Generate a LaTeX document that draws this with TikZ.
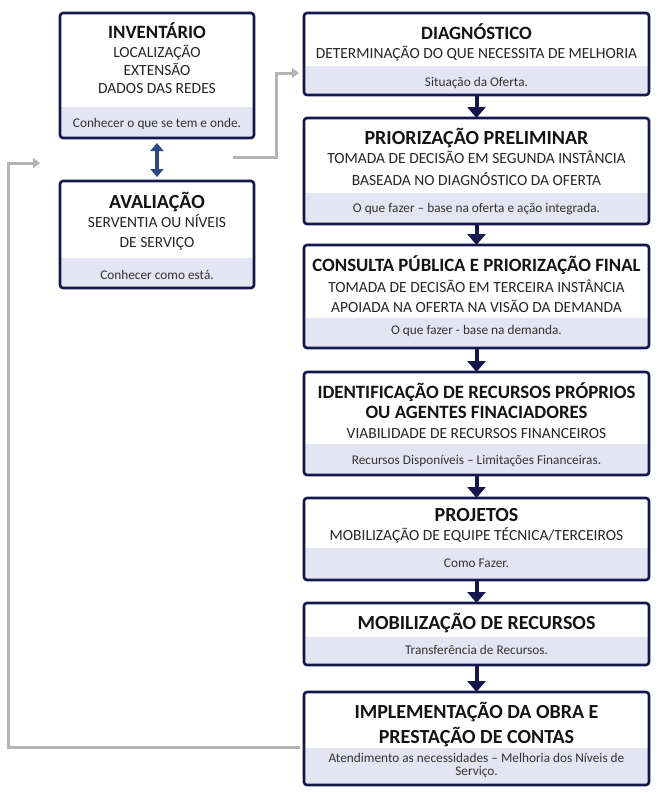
\documentclass[tikz,border=0pt]{standalone}
\usepackage{fontspec}
\setmainfont{Carlito}
\usetikzlibrary{arrows.meta}
\definecolor{navy}{HTML}{16164F}
\definecolor{bandc}{HTML}{E4E4F2}
\definecolor{grayc}{HTML}{B4B4B4}
\definecolor{dblc}{HTML}{2C4A88}
\tikzset{
  panel/.style={draw=navy, line width=2.6pt, rounded corners=3pt, inner sep=0pt, outer sep=0pt},
  ttl/.style={font=\fontsize{18.8}{22}\selectfont\bfseries, text=black!92, anchor=base, inner sep=0pt},
  ttlL/.style={ttl, font=\fontsize{20}{23}\selectfont\bfseries},
  sub/.style={font=\fontsize{15.5}{18}\selectfont, text=black!85, anchor=base, inner sep=0pt},
  bnd/.style={font=\fontsize{13.3}{15}\selectfont, text=black!80, anchor=base, inner sep=0pt},
  nav/.style={draw=navy, line width=4pt, -{Triangle[width=18pt,length=11pt]}},
  dbl/.style={draw=dblc, line width=3.5pt, {Triangle[width=13pt,length=8pt]}-{Triangle[width=13pt,length=8pt]}},
  gry/.style={draw=grayc, line width=3pt, -{Triangle[width=10pt,length=7pt]}},
}
% name, x1, y1, x2, y2, bandY
\newcommand\panelbox[6]{%
  \begin{scope}
    \clip[rounded corners=3pt] (#2,#3) rectangle (#4,#5);
    \fill[bandc] (#2,#6) rectangle (#4,#5);
  \end{scope}
  \node[panel, minimum width={(#4-#2)*1pt}, minimum height={(#5-#3)*1pt}] (#1) at ({(#2+#4)/2},{(#3+#5)/2}) {};
}
\begin{document}
\begin{tikzpicture}[x=1pt, y=-1pt]
\useasboundingbox (0,0) rectangle (664,793);
\fill[white] (0,0) rectangle (664,793);

% left column
\panelbox{inv}{60}{13}{254}{138}{107}
\panelbox{ava}{60}{181}{254}{288}{258}
% right column
\panelbox{diag}{304}{13}{649}{95}{66}
\panelbox{prior}{304}{118}{649}{224}{193}
\panelbox{cons}{304}{245}{649}{348}{318}
\panelbox{ident}{304}{372}{649}{475}{444}
\panelbox{proj}{304}{498}{649}{580}{548}
\panelbox{mob}{304}{603}{649}{665}{637}
\panelbox{impl}{304}{692}{649}{785}{748}

% texts: inventario
\node[ttl] (invt) at (157,38) {INVENTÁRIO};
\node[sub] (invs1) at (157,57) {LOCALIZAÇÃO};
\node[sub] (invs2) at (157,75) {EXTENSÃO};
\node[sub] (invs3) at (157,93) {DADOS DAS REDES};
\node[bnd] (invb) at (157,127) {Conhecer o que se tem e onde.};
% avaliacao
\node[ttlL] (avat) at (157,208) {AVALIAÇÃO};
\node[sub] (avas1) at (157,227) {SERVENTIA OU NÍVEIS};
\node[sub] (avas2) at (157,247) {DE SERVIÇO};
\node[bnd] (avab) at (157,279) {Conhecer como está.};
% diagnostico
\node[ttl] (diagt) at (476.5,39) {DIAGNÓSTICO};
\node[sub] (diags) at (476.5,58) {DETERMINAÇÃO DO QUE NECESSITA DE MELHORIA};
\node[bnd] (diagb) at (476.5,86) {Situação da Oferta.};
% priorizacao
\node[ttlL] (priort) at (476.5,144) {PRIORIZAÇÃO PRELIMINAR};
\node[sub] (priors1) at (476.5,163) {TOMADA DE DECISÃO EM SEGUNDA INSTÂNCIA};
\node[sub] (priors2) at (476.5,185) {BASEADA NO DIAGNÓSTICO DA OFERTA};
\node[bnd] (priorb) at (476.5,212) {O que fazer – base na oferta e ação integrada.};
% consulta
\node[ttl] (const) at (476.5,271) {CONSULTA PÚBLICA E PRIORIZAÇÃO FINAL};
\node[sub] (conss1) at (476.5,292) {TOMADA DE DECISÃO EM TERCEIRA INSTÂNCIA};
\node[sub] (conss2) at (476.5,312) {APOIADA NA OFERTA NA VISÃO DA DEMANDA};
\node[bnd] (consb) at (476.5,334) {O que fazer - base na demanda.};
% identificacao
\node[ttl] (identt1) at (476.5,398) {IDENTIFICAÇÃO DE RECURSOS PRÓPRIOS};
\node[ttl] (identt2) at (476.5,418) {OU AGENTES FINACIADORES};
\node[sub] (idents) at (476.5,438) {VIABILIDADE DE RECURSOS FINANCEIROS};
\node[bnd] (identb) at (476.5,464) {Recursos Disponíveis – Limitações Financeiras.};
% projetos
\node[ttlL] (projt) at (476.5,521) {PROJETOS};
\node[sub] (projs) at (476.5,540) {MOBILIZAÇÃO DE EQUIPE TÉCNICA/TERCEIROS};
\node[bnd] (projb) at (476.5,567) {Como Fazer.};
% mobilizacao
\node[ttlL] (mobt) at (476.5,629) {MOBILIZAÇÃO DE RECURSOS};
\node[bnd] (mobb) at (476.5,654) {Transferência de Recursos.};
% implementacao
\node[ttlL] (implt1) at (476.5,718) {IMPLEMENTAÇÃO DA OBRA E};
\node[ttlL] (implt2) at (476.5,743) {PRESTAÇÃO DE CONTAS};
\node[bnd] (implb1) at (476.5,762) {Atendimento as necessidades – Melhoria dos Níveis de};
\node[bnd] (implb2) at (476.5,775) {Serviço.};

% navy flow arrows
\draw[nav] (diag.south) -- (prior.north);
\draw[nav] (prior.south) -- (cons.north);
\draw[nav] (cons.south) -- (ident.north);
\draw[nav] (ident.south) -- (proj.north);
\draw[nav] (proj.south) -- (mob.north);
\draw[nav] (mob.south) -- (impl.north);

% double arrow
\draw[dbl, shorten <=5pt, shorten >=4pt] (inv.south) -- (ava.north);

% gray connectors
\coordinate (g1s) at (233,157);
\coordinate (g1y) at (0,73);
\draw[gry, shorten >=5pt] (g1s) -- (276,157) -- (276,73) -- (diag.west |- g1y);
\coordinate (g2y) at (0,747);
\coordinate (g2e) at (40,163);
\draw[gry, shorten <=4pt] (impl.west |- g2y) -- (8,747) -- (8,163) -- (g2e);
\end{tikzpicture}
\end{document}
